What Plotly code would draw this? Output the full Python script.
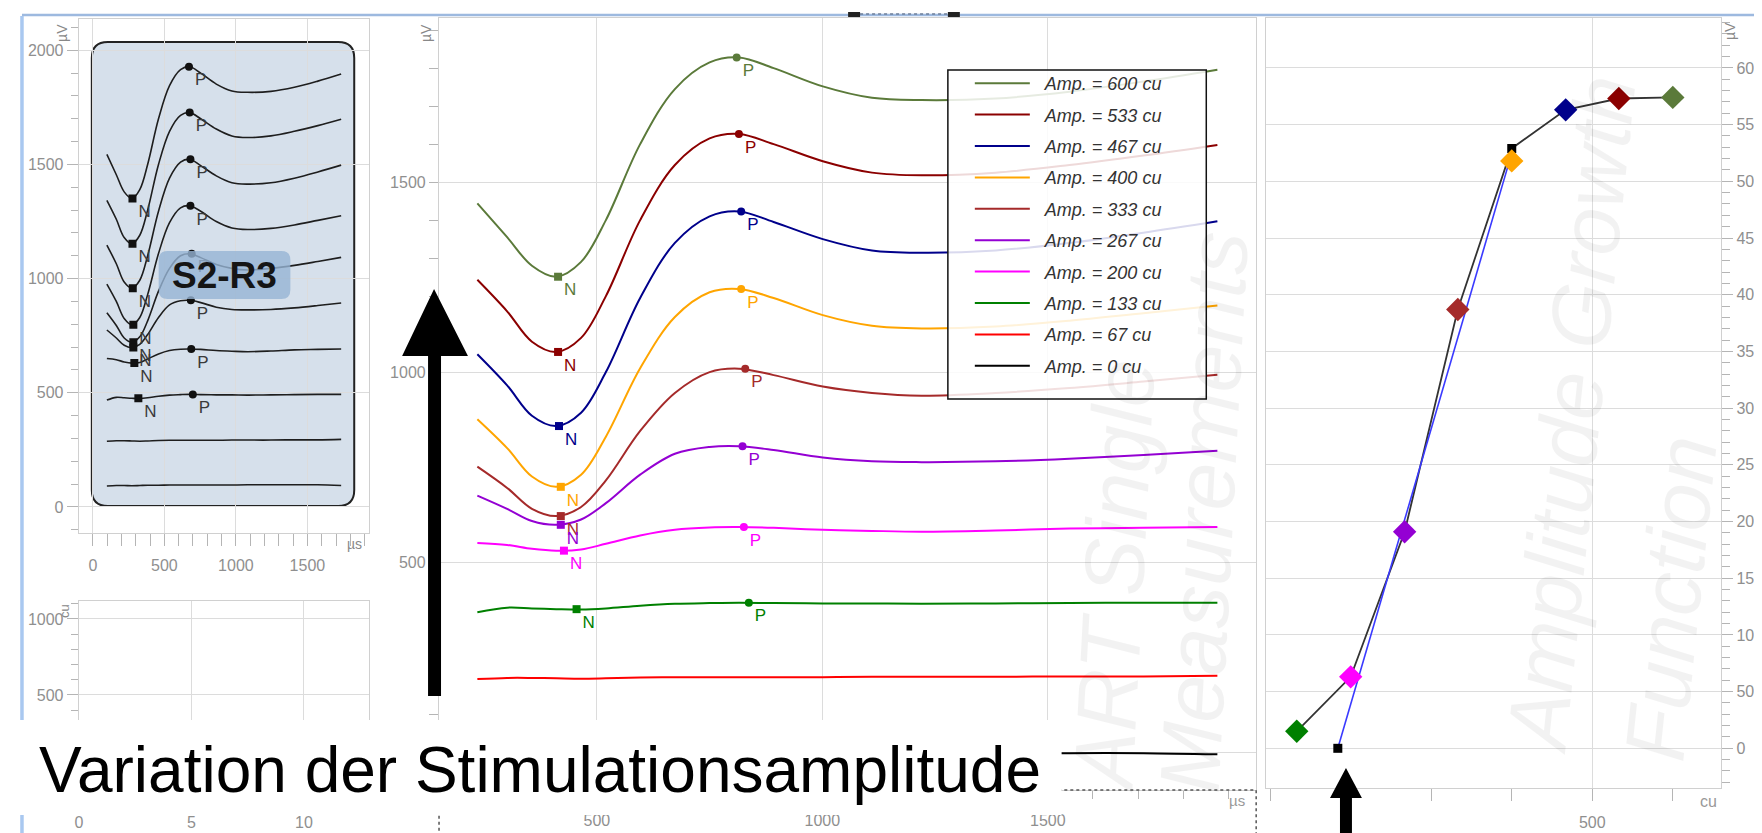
import plotly.graph_objects as go

W, H = 1762, 833

# ---------------- data ----------------
AMPS_CU = [600, 533, 467, 400, 333, 267, 200, 133, 67, 0]
COLORS = ['#5B7A3A', '#8B0000', '#00008B', '#FFA500', '#A52A2A',
          '#9400D3', '#FF00FF', '#008000', '#FF0000', '#000000']
LEGEND_LABELS = ["Amp. = 600 cu", "Amp. = 533 cu", "Amp. = 467 cu", "Amp. = 400 cu",
                 "Amp. = 333 cu", "Amp. = 267 cu", "Amp. = 200 cu", "Amp. = 133 cu",
                 "Amp. = 67 cu", "Amp. = 0 cu"]

# main panel (time in us, voltage in uV, traces stacked)
X_MID_US = [235, 301, 356, 410, 465, 520, 596, 673, 750, 815, 892, 1001, 1110, 1220, 1384, 1548, 1712, 1876]
MID_600 = [1444, 1355, 1280, 1251, 1290, 1400, 1600, 1745, 1815, 1828, 1800, 1752, 1722, 1716, 1720, 1738, 1765, 1796]
MID_533 = [1243, 1160, 1080, 1053, 1090, 1200, 1400, 1545, 1615, 1627, 1600, 1555, 1525, 1518, 1525, 1545, 1570, 1598]
MID_467 = [1047, 965, 885, 858, 893, 1000, 1195, 1340, 1410, 1423, 1395, 1350, 1320, 1314, 1320, 1340, 1367, 1397]
MID_400 = [876, 800, 725, 698, 730, 830, 1010, 1145, 1210, 1219, 1195, 1150, 1122, 1115, 1120, 1135, 1155, 1175]
MID_333 = [751, 695, 640, 621, 645, 715, 845, 945, 1000, 1009, 992, 962, 945, 938, 945, 958, 975, 993]
MID_267 = [675, 640, 608, 598, 612, 655, 730, 785, 803, 805, 795, 775, 765, 763, 765, 772, 782, 793]
MID_200 = [550, 545, 535, 530, 533, 548, 570, 585, 591, 592, 590, 585, 582, 580, 583, 588, 590, 592]
MID_133 = [368, 380, 378, 376, 375, 378, 385, 390, 392, 393, 392, 391, 391, 390, 391, 392, 393, 393]
MID_67 = [192, 195, 195, 194, 193, 194, 196, 197, 197, 197, 197, 197, 198, 198, 198, 199, 199, 201]
MID_0 = [-8, -6, -6, -7, -6, -5, -5, -4, -4, -4, -4, -4, -4, -3, -3, -3, -3, -6]
MID_SERIES = [MID_600, MID_533, MID_467, MID_400, MID_333, MID_267, MID_200, MID_133, MID_67, MID_0]

N_X_MID = [414, 414, 416, 420, 420, 420, 427, 455]
N_Y_MID = [1251, 1053, 858, 698, 621, 598, 530, 376]
P_X_MID = [810, 815, 820, 820, 829, 823, 826, 837]
P_Y_MID = [1828, 1627, 1423, 1219, 1009, 805, 592, 393]

# thumbnail panel (top left)
X_THUMB_US = [98, 164, 219, 273, 328, 383, 459, 536, 613, 677, 754, 863, 972, 1082, 1245, 1409, 1573, 1736]
THUMB_600 = [1544, 1455, 1380, 1351, 1390, 1500, 1700, 1845, 1915, 1928, 1900, 1852, 1822, 1816, 1820, 1838, 1865, 1896]
THUMB_533 = [1343, 1260, 1180, 1153, 1190, 1300, 1500, 1645, 1715, 1727, 1700, 1655, 1625, 1618, 1625, 1645, 1670, 1698]
THUMB_467 = [1147, 1065, 985, 958, 993, 1100, 1295, 1440, 1510, 1523, 1495, 1450, 1420, 1414, 1420, 1440, 1467, 1497]
THUMB_400 = [976, 900, 825, 798, 830, 930, 1110, 1245, 1310, 1319, 1295, 1250, 1222, 1215, 1220, 1235, 1255, 1275]
THUMB_333 = [851, 795, 740, 721, 745, 815, 945, 1045, 1100, 1109, 1092, 1062, 1045, 1038, 1045, 1058, 1075, 1093]
THUMB_267 = [775, 740, 708, 698, 712, 755, 830, 885, 903, 905, 895, 875, 865, 863, 865, 872, 882, 893]
THUMB_200 = [650, 645, 635, 630, 633, 648, 670, 685, 691, 692, 690, 685, 682, 680, 683, 688, 690, 692]
THUMB_133 = [468, 480, 478, 476, 475, 478, 485, 490, 492, 493, 492, 491, 491, 490, 491, 492, 493, 493]
THUMB_67 = [288, 290, 290, 289, 288, 289, 291, 292, 292, 292, 292, 292, 293, 293, 293, 294, 294, 296]
THUMB_0 = [92, 94, 94, 93, 94, 95, 95, 96, 96, 96, 96, 96, 96, 97, 97, 97, 97, 94]
THUMB_SERIES = [THUMB_600, THUMB_533, THUMB_467, THUMB_400, THUMB_333, THUMB_267, THUMB_200, THUMB_133, THUMB_67, THUMB_0]

N_X_THUMB = [277, 277, 279, 283, 283, 283, 290, 318]
N_Y_THUMB = [1351, 1153, 958, 798, 721, 698, 630, 476]
P_X_THUMB = [672, 677, 682, 682, 691, 685, 688, 699]
P_Y_THUMB = [1928, 1727, 1523, 1319, 1109, 905, 692, 493]

# amplitude growth function (right panel)
AGF_AMP_CU = [133, 200, 267, 333, 400, 467, 533, 600]
AGF_UV = [15, 63, 191, 387, 518, 563, 573, 574]
AGF_COLORS = ['#008000', '#FF00FF', '#9400D3', '#A52A2A', '#FFA500', '#00008B', '#8B0000', '#5B7A3A']
AGF_LINE_AMP = [133, 200, 267, 333, 400, 467, 533, 600]
AGF_LINE_UV = [15, 63, 191, 387, 529, 563, 573, 574]
FIT_AMP_CU = [184, 398]
FIT_UV = [0, 520]
SQ_AMP_CU = [184, 400]
SQ_UV = [0, 529]

FONT = "Liberation Sans"
TICK_GREY = "#8f8f8f"
GRID = "#dcdcdc"


def px(v):
    return v / W


def py(v):
    return 1 - v / H


fig = go.Figure()

# ---- thumbnail traces ----
for ys in THUMB_SERIES:
    fig.add_trace(go.Scatter(x=X_THUMB_US, y=ys, mode='lines', line=dict(color='#1e1e1e', width=1.6, shape='spline'),
                             showlegend=False, hoverinfo='skip', xaxis='x', yaxis='y'))
fig.add_trace(go.Scatter(x=N_X_THUMB, y=N_Y_THUMB, mode='markers+text', text=['N'] * len(N_X_THUMB),
                         textposition='bottom right', textfont=dict(family=FONT, size=17, color='#3a3a3a'),
                         marker=dict(symbol='square', size=8, color='#111'), showlegend=False,
                         hoverinfo='skip', xaxis='x', yaxis='y'))
fig.add_trace(go.Scatter(x=P_X_THUMB, y=P_Y_THUMB, mode='markers+text', text=['P'] * len(P_X_THUMB),
                         textposition='bottom right', textfont=dict(family=FONT, size=17, color='#3a3a3a'),
                         marker=dict(symbol='circle', size=8, color='#111'), showlegend=False,
                         hoverinfo='skip', xaxis='x', yaxis='y'))

# empty lower-left panel
fig.add_trace(go.Scatter(x=[], y=[], xaxis='x2', yaxis='y2', showlegend=False, hoverinfo='skip'))

# ---- main traces ----
for i, ys in enumerate(MID_SERIES):
    fig.add_trace(go.Scatter(x=X_MID_US, y=ys, mode='lines', name="\u00a0" * 2 + LEGEND_LABELS[i],
                             legendgroup=str(i), line=dict(color=COLORS[i], width=2, shape='spline'),
                             hoverinfo='skip', xaxis='x3', yaxis='y3'))
fig.add_trace(go.Scatter(x=N_X_MID, y=N_Y_MID, mode='markers+text', text=['N'] * len(N_X_MID),
                         textposition='bottom right', textfont=dict(family=FONT, size=17, color=COLORS[:8]),
                         marker=dict(symbol='square', size=8, color=COLORS[:8]), showlegend=False,
                         hoverinfo='skip', xaxis='x3', yaxis='y3'))
fig.add_trace(go.Scatter(x=P_X_MID, y=P_Y_MID, mode='markers+text', text=['P'] * len(P_X_MID),
                         textposition='bottom right', textfont=dict(family=FONT, size=17, color=COLORS[:8]),
                         marker=dict(symbol='circle', size=8, color=COLORS[:8]), showlegend=False,
                         hoverinfo='skip', xaxis='x3', yaxis='y3'))

# ---- amplitude growth function ----
fig.add_trace(go.Scatter(x=AGF_LINE_AMP, y=AGF_LINE_UV, mode='lines', line=dict(color='#333', width=1.8),
                         showlegend=False, hoverinfo='skip', xaxis='x4', yaxis='y4'))
fig.add_trace(go.Scatter(x=FIT_AMP_CU, y=FIT_UV, mode='lines', line=dict(color='#3a3aff', width=1.6),
                         showlegend=False, hoverinfo='skip', xaxis='x4', yaxis='y4'))
fig.add_trace(go.Scatter(x=SQ_AMP_CU, y=SQ_UV, mode='markers', marker=dict(symbol='square', size=9, color='#000'),
                         showlegend=False, hoverinfo='skip', xaxis='x4', yaxis='y4'))
fig.add_trace(go.Scatter(x=AGF_AMP_CU, y=AGF_UV, mode='markers',
                         marker=dict(symbol='diamond', size=18, color=AGF_COLORS, line=dict(width=0)),
                         showlegend=False, hoverinfo='skip', xaxis='x4', yaxis='y4'))

tickfont = dict(family=FONT, size=16, color=TICK_GREY)


def axis(**kw):
    base = dict(showgrid=True, gridcolor=GRID, gridwidth=1.3, zeroline=False, showline=True,
                linecolor='#d0d0d0', linewidth=1.3, tickfont=tickfont, tickcolor='#b5b5b5', fixedrange=True)
    base.update(kw)
    return base


fig.update_layout(
    width=W, height=H, margin=dict(l=0, r=0, t=0, b=0),
    paper_bgcolor='white', plot_bgcolor='rgba(0,0,0,0)',
    xaxis=axis(domain=[px(67), px(358)], range=[-98, 1932], dtick=500, tick0=0, anchor='y', mirror=True,
               ticks='outside', ticklen=12, ticklabelstandoff=6,
               minor=dict(dtick=100, ticks='outside', ticklen=12, tickcolor='#b5b5b5', showgrid=False)),
    yaxis=axis(domain=[py(525), py(11)], range=[-114, 2137], dtick=500, tick0=0, anchor='x', mirror=True,
               ticks='outside', ticklen=11,
               minor=dict(dtick=100, ticks='outside', ticklen=7, tickcolor='#b5b5b5', showgrid=False)),
    xaxis2=axis(domain=[px(67), px(358)], range=[0, 12.9], dtick=5, tick0=0, anchor='y2', mirror=True,
                ticks='', ticklabelstandoff=0),
    yaxis2=axis(domain=[py(800), py(593)], range=[-243, 1118], dtick=500, tick0=0, anchor='x2', mirror=True,
                ticks='outside', ticklen=11,
                minor=dict(dtick=100, ticks='outside', ticklen=7, tickcolor='#b5b5b5', showgrid=False)),
    xaxis3=axis(domain=[px(428), px(1247)], range=[150, 1962], dtick=500, tick0=0, anchor='y3', mirror=True,
                ticks='outside', ticklen=8, ticklabelstandoff=8,
                minor=dict(dtick=100, ticks='outside', ticklen=8, tickcolor='#b5b5b5', showgrid=False)),
    yaxis3=axis(domain=[py(782), py(10)], range=[-100, 1932], dtick=500, tick0=0, anchor='x3', mirror=True,
                ticks='outside', ticklen=9,
                minor=dict(dtick=100, ticks='outside', ticklen=9, tickcolor='#b5b5b5', showgrid=False)),
    xaxis4=axis(domain=[px(1257), px(1713)], range=[95, 660], dtick=500, tick0=0, anchor='y4', mirror=True,
                ticks='outside', ticklen=12, ticklabelstandoff=8,
                minor=dict(dtick=100, ticks='outside', ticklen=12, tickcolor='#b5b5b5', showgrid=False)),
    yaxis4=axis(domain=[py(780), py(10)], range=[-35, 644], dtick=50, tick0=0, anchor='x4', side='right',
                mirror=True, ticks='outside', ticklen=11,
                minor=dict(dtick=10, ticks='outside', ticklen=8, tickcolor='#b5b5b5', showgrid=False)),
    legend=dict(x=px(960), y=py(57), xanchor='left', yanchor='top', bgcolor='rgba(0,0,0,0)',
                borderwidth=0, font=dict(family=FONT, size=18, color='#333', style='italic'),
                itemwidth=55, tracegroupgap=5, traceorder='grouped'),
    showlegend=True,
)


def rounded_path(x0, y0, x1, y1, r):
    def P(a, b):
        return f"{a / W:.5f},{1 - b / H:.5f}"
    return (f"M {P(x0 + r, y0)} L {P(x1 - r, y0)} Q {P(x1, y0)} {P(x1, y0 + r)} "
            f"L {P(x1, y1 - r)} Q {P(x1, y1)} {P(x1 - r, y1)} "
            f"L {P(x0 + r, y1)} Q {P(x0, y1)} {P(x0, y1 - r)} "
            f"L {P(x0, y0 + r)} Q {P(x0, y0)} {P(x0 + r, y0)} Z")


def poly_path(points):
    s = " ".join(("M " if i == 0 else "L ") + f"{a / W:.5f},{1 - b / H:.5f}" for i, (a, b) in enumerate(points))
    return s + " Z"


shapes = []
# thumbnail rounded frame
shapes.append(dict(type='path', xref='paper', yref='paper', layer='below', path=rounded_path(80, 34, 343, 498, 16),
                   fillcolor='#d6e0eb', line=dict(color='#222', width=2)))
# S2-R3 label box
shapes.append(dict(type='path', xref='paper', yref='paper', layer='above', path=rounded_path(147, 243, 279, 291, 9),
                   fillcolor='rgba(150,180,212,0.8)', line=dict(width=0)))
# legend frame (semi-transparent)
shapes.append(dict(type='rect', xref='paper', yref='paper', x0=px(938), x1=px(1197), y0=py(391), y1=py(62),
                   fillcolor='rgba(255,255,255,0.85)', line=dict(color='#111', width=1.5), layer='above'))
# top / left frame lines of the screenshot
shapes.append(dict(type='line', xref='paper', yref='paper', x0=px(10), x1=1, y0=py(7), y1=py(7),
                   line=dict(color='#9db9df', width=2.5), layer='above'))
shapes.append(dict(type='line', xref='paper', yref='paper', x0=px(10), x1=px(10), y0=0, y1=py(8),
                   line=dict(color='#a9c8f0', width=3.5), layer='above'))
shapes.append(dict(type='line', xref='paper', yref='paper', x0=px(850), x1=px(940), y0=py(6), y1=py(6),
                   line=dict(color='#6d7f9a', width=1.5, dash='dot'), layer='above'))
for xa in (838, 938):
    shapes.append(dict(type='rect', xref='paper', yref='paper', x0=px(xa), x1=px(xa + 12), y0=py(9), y1=py(4),
                       fillcolor='#222', line=dict(width=0), layer='above'))
# dotted box under the main plot
shapes.append(dict(type='rect', xref='paper', yref='paper', x0=px(428), x1=px(1247), y0=py(832), y1=py(782),
                   line=dict(color='#555', width=1.5, dash='dot'), fillcolor='rgba(0,0,0,0)', layer='above'))
# white caption band
shapes.append(dict(type='rect', xref='paper', yref='paper', x0=0, x1=px(1052), y0=py(807), y1=py(712),
                   fillcolor='white', line=dict(width=0), layer='above'))
# big arrow in main panel
shapes.append(dict(type='path', xref='paper', yref='paper', layer='above', fillcolor='black', line=dict(width=0),
                   path=poly_path([(417, 688), (417, 348), (391, 348), (423, 281), (457, 348), (430, 348), (430, 688)])))
# small arrow under the growth function
shapes.append(dict(type='path', xref='paper', yref='paper', layer='above', fillcolor='black', line=dict(width=0),
                   path=poly_path([(1331, 833), (1331, 790), (1321, 790), (1337, 760), (1353, 790), (1343, 790), (1343, 833)])))
fig.update_layout(shapes=shapes)

wm_font = dict(family=FONT, size=85, color='rgba(0,0,0,0.05)', style='italic')
ann = [
    dict(text="ART Single", x=px(1104), y=py(568), textangle=-87, font=wm_font),
    dict(text="Measurements", x=px(1195), y=py(504), textangle=-87, font=wm_font),
    dict(text="Amplitude Growth", x=px(1562), y=py(406), textangle=-84, font=wm_font),
    dict(text="Function", x=px(1662), y=py(590), textangle=-84, font=wm_font),
    dict(text="<b>S2-R3</b>", x=px(213), y=py(267), font=dict(family=FONT, size=37, color='#151515')),
    dict(text="Variation der Stimulationsamplitude", x=px(25), y=py(762), xanchor='left',
         font=dict(family=FONT, size=64, color='black')),
    dict(text="µV", x=px(50), y=py(25), textangle=-90, font=dict(family=FONT, size=14, color='#888')),
    dict(text="µs", x=px(343), y=py(536), font=dict(family=FONT, size=14, color='#888')),
    dict(text="cu", x=px(52), y=py(603), textangle=-90, font=dict(family=FONT, size=13, color='#888')),
    dict(text="µV", x=px(415), y=py(25), textangle=-90, font=dict(family=FONT, size=14, color='#888')),
    dict(text="µs", x=px(1228), y=py(792), font=dict(family=FONT, size=15, color='#999')),
    dict(text="µV", x=px(1722), y=py(23), textangle=-90, font=dict(family=FONT, size=14, color='#888')),
    dict(text="cu", x=px(1700), y=py(793), font=dict(family=FONT, size=16, color='#999')),
]
for a in ann:
    a.setdefault('xref', 'paper')
    a.setdefault('yref', 'paper')
    a.setdefault('showarrow', False)
    a.setdefault('xanchor', 'center')
    a.setdefault('yanchor', 'middle')
fig.update_layout(annotations=ann)

fig.write_html("out.html")
